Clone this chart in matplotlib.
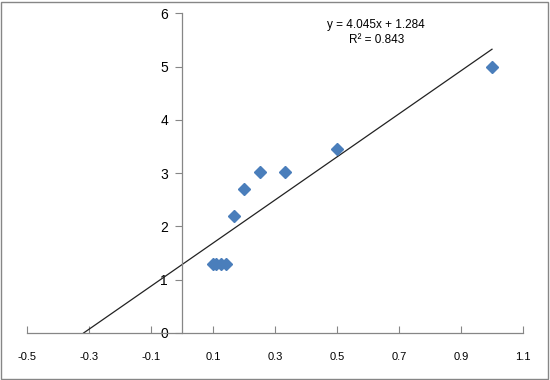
import numpy as np
import matplotlib.pyplot as plt

# dados
x = [0.1, 0.111, 0.125, 0.143, 0.167, 0.2, 0.25, 0.333, 0.5, 1.0]
y = [1.3, 1.3, 1.3, 1.3, 2.2, 2.7, 3.03, 3.03, 3.45, 5.0]
slope = 4.045
intercept = 1.284
r2 = 0.843

xticks = [-0.5, -0.3, -0.1, 0.1, 0.3, 0.5, 0.7, 0.9, 1.1]
yticks = [0, 1, 2, 3, 4, 5, 6]

plt.rcParams['font.family'] = ['Liberation Sans', 'DejaVu Sans']

fig = plt.figure(figsize=(5.5, 3.8), dpi=100)
# borda cinza da área do gráfico
fig.patches.append(plt.Rectangle((0.002, 0.003), 0.995, 0.993, transform=fig.transFigure,
                                 fill=False, edgecolor='#868686', linewidth=1))
ax = fig.add_axes([0.0491, 0.1237, 0.9018, 0.8408])

# linha de tendência
x0 = -intercept / slope
xl = np.array([x0, max(x)])
ax.plot(xl, slope * xl + intercept, color='#222222', linewidth=0.9)

ax.plot(x, y, linestyle='none', marker='D', markersize=6, color='#4A7EBB',
        markeredgecolor='#4A7EBB', zorder=3)

ax.set_xlim(-0.5, 1.1)
ax.set_ylim(0, 6)
ax.set_xticks(xticks)
ax.set_xticklabels([str(t) for t in xticks], fontsize=8)
ax.set_yticks(yticks)
ax.set_yticklabels([str(t) for t in yticks], fontsize=8)

ax.spines['left'].set_position(('data', 0))
ax.spines['top'].set_visible(False)
ax.spines['right'].set_visible(False)
for s in ['left', 'bottom']:
    ax.spines[s].set_color('#868686')
    ax.spines[s].set_linewidth(0.9)
ax.tick_params(axis='x', direction='in', length=5, color='#868686', pad=14)
ax.tick_params(axis='y', direction='out', length=5, color='#868686', pad=5)

ax.text(0.704, 0.983, f'y = {slope}x + {intercept}\nR² = {r2}', transform=ax.transAxes,
        ha='center', va='top', fontsize=8.5, linespacing=1.35)

fig.savefig('out.png', dpi=100)
